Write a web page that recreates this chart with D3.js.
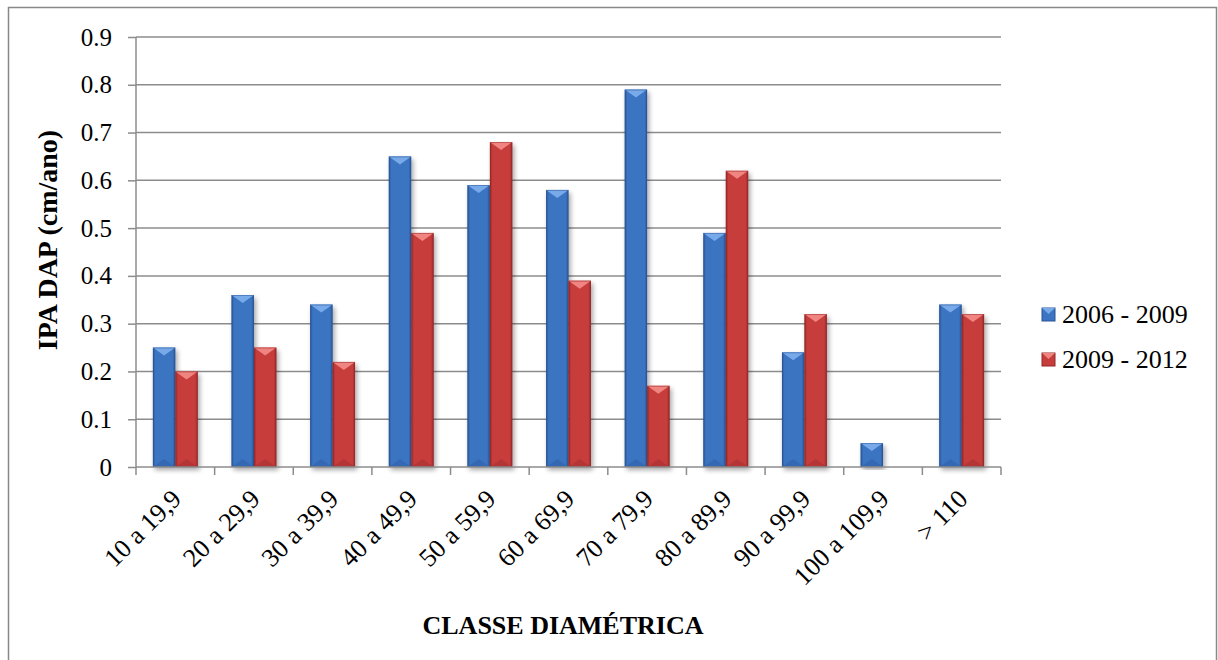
<!DOCTYPE html>
<html>
<head>
<meta charset="utf-8">
<script src="https://cdn.jsdelivr.net/npm/d3@7"></script>
<style>
body { margin: 0; background: #fff; }
svg text { font-family: "Liberation Serif", "Times New Roman", serif; fill: #000; }
</style>
</head>
<body>
<script>
var categories = ["10 a 19,9", "20 a 29,9", "30 a 39,9", "40 a 49,9", "50 a 59,9", "60 a 69,9",
                  "70 a 79,9", "80 a 89,9", "90 a 99,9", "100 a 109,9", "> 110"];
var seriesNames = ["2006 - 2009", "2009 - 2012"];
var serie2006 = [0.25, 0.36, 0.34, 0.65, 0.59, 0.58, 0.79, 0.49, 0.24, 0.05, 0.34];
var serie2009 = [0.20, 0.25, 0.22, 0.49, 0.68, 0.39, 0.17, 0.62, 0.32, null, 0.32];
var yTicks = [0, 0.1, 0.2, 0.3, 0.4, 0.5, 0.6, 0.7, 0.8, 0.9];

var W = 1218, H = 660;
var plot = {left: 136, right: 1001, top: 37, bottom: 467};
var serif = "Liberation Serif, Times New Roman, serif";

var svg = d3.select("body").append("svg").attr("width", W).attr("height", H);

// colours: base, light, dark for each series
var cols = [
  {base: "#3b74c2", light: "#78aaea", dark: "#2a5494"},
  {base: "#c63d3b", light: "#f08480", dark: "#93282a"}
];

var defs = svg.append("defs");
cols.forEach(function(c, i){
  var g = defs.append("linearGradient").attr("id", "body" + i).attr("x1", 0).attr("x2", 1).attr("y1", 0).attr("y2", 0);
  g.append("stop").attr("offset", "0%").attr("stop-color", c.dark);
  g.append("stop").attr("offset", "12%").attr("stop-color", c.base);
  g.append("stop").attr("offset", "88%").attr("stop-color", c.base);
  g.append("stop").attr("offset", "100%").attr("stop-color", c.dark);
});
var flt = defs.append("filter").attr("id", "shadow").attr("x", "-20%").attr("y", "-5%").attr("width", "150%").attr("height", "115%");
flt.append("feGaussianBlur").attr("in", "SourceAlpha").attr("stdDeviation", 2.5);
flt.append("feOffset").attr("dx", 2).attr("dy", 3).attr("result", "ob");
flt.append("feComponentTransfer").append("feFuncA").attr("type", "linear").attr("slope", 0.35);
var fm = flt.append("feMerge");
fm.append("feMergeNode");
fm.append("feMergeNode").attr("in", "SourceGraphic");

// outer frame
svg.append("rect").attr("x", 8.5).attr("y", 7.5).attr("width", 1208).attr("height", 680)
  .attr("fill", "none").attr("stroke", "#888").attr("stroke-width", 1.5);

var x = d3.scaleBand().domain(categories).range([plot.left, plot.right]);
var y = d3.scaleLinear().domain([0, 0.9]).range([plot.bottom, plot.top]);

// grid
svg.append("g").selectAll("line").data(yTicks.slice(1)).join("line")
  .attr("x1", plot.left).attr("x2", plot.right)
  .attr("y1", function(d){ return y(d); }).attr("y2", function(d){ return y(d); })
  .attr("stroke", "#8c8c8c").attr("stroke-width", 1.5);

// y axis
var yAxis = svg.append("g").attr("transform", "translate(" + plot.left + ",0)")
  .call(d3.axisLeft(y).tickValues(yTicks).tickSize(8).tickPadding(16).tickFormat(function(d){ return d === 0 ? "0" : d3.format(".1f")(d); }));
yAxis.attr("font-family", serif).attr("font-size", 25);
yAxis.select(".domain").attr("stroke", "#8c8c8c").attr("stroke-width", 1.5).attr("d", "M0," + plot.top + "V" + plot.bottom);
yAxis.selectAll(".tick line").attr("stroke", "#8c8c8c").attr("stroke-width", 1.5);
yAxis.selectAll(".tick text").attr("fill", "#000");

// bars
var data = [];
categories.forEach(function(c, i){
  [serie2006[i], serie2009[i]].forEach(function(v, s){
    if (v != null) data.push({cat: c, s: s, v: v});
  });
});

var bars = svg.append("g").selectAll("g").data(data).join("g")
  .attr("filter", "url(#shadow)");
bars.each(function(d){
  var g = d3.select(this);
  var bw = x.bandwidth() / 3.5;
  var x0 = x(d.cat) + x.bandwidth() * 0.75 / 3.5 + d.s * bw;
  var y0 = y(d.v), h = y(0) - y0;
  var c = cols[d.s];
  var bev = Math.min(8, h / 2);
  g.append("rect").attr("x", x0).attr("y", y0).attr("width", bw).attr("height", h)
    .attr("fill", "url(#body" + d.s + ")");
  // top bevel triangle
  g.append("path")
    .attr("d", "M" + x0 + "," + y0 + "L" + (x0 + bw) + "," + y0 + "L" + (x0 + bw / 2) + "," + (y0 + bev) + "Z")
    .attr("fill", c.light);
  // bottom bevel
  g.append("path")
    .attr("d", "M" + x0 + "," + (y0 + h) + "L" + (x0 + bw) + "," + (y0 + h) + "L" + (x0 + bw / 2) + "," + (y0 + h - bev) + "Z")
    .attr("fill", c.dark).attr("opacity", 0.35);
  g.append("rect").attr("x", x0 + 0.5).attr("y", y0 + 0.5).attr("width", bw - 1).attr("height", h - 1)
    .attr("fill", "none").attr("stroke", c.dark).attr("stroke-width", 0.8).attr("opacity", 0.6);
});

// x axis
var xAxis = svg.append("g").attr("transform", "translate(0," + plot.bottom + ")")
  .call(d3.axisBottom(x).tickSize(0).tickFormat(""));
xAxis.attr("font-family", serif).attr("font-size", 26);
xAxis.select(".domain").attr("stroke", "#8c8c8c").attr("stroke-width", 1.5).attr("d", "M" + plot.left + ",0H" + plot.right);
xAxis.selectAll(".tick").remove();
var bounds = categories.map(function(c){ return x(c); }).concat([plot.right]);
xAxis.selectAll("line.tk").data(bounds).join("line").attr("class", "tk")
  .attr("x1", function(d){ return d; }).attr("x2", function(d){ return d; })
  .attr("y1", 0).attr("y2", 8).attr("stroke", "#8c8c8c").attr("stroke-width", 1.5);
xAxis.selectAll("text.lbl").data(categories).join("text").attr("class", "lbl")
  .attr("transform", function(d){ return "translate(" + (x(d) + x.bandwidth() / 2 + 1) + ",27) rotate(-45)"; })
  .attr("text-anchor", "end").attr("dy", "0.35em")
  .text(function(d){ return d; });

// axis titles
svg.append("text").attr("x", 563).attr("y", 634).attr("text-anchor", "middle")
  .attr("font-family", serif).attr("font-size", 26).attr("font-weight", "bold").text("CLASSE DIAMÉTRICA");
svg.append("text").attr("transform", "translate(57,240) rotate(-90)").attr("text-anchor", "middle")
  .attr("font-family", serif).attr("font-size", 28).attr("font-weight", "bold").text("IPA DAP (cm/ano)");

// legend
var leg = svg.append("g").attr("font-family", serif).attr("font-size", 26)
  .selectAll("g").data(seriesNames).join("g")
  .attr("transform", function(d, i){ return "translate(1042," + (314 + i * 45) + ")"; });
leg.append("rect").attr("x", 0).attr("y", -6).attr("width", 13).attr("height", 13)
  .attr("fill", function(d, i){ return cols[i].base; }).attr("stroke", function(d, i){ return cols[i].dark; });
leg.append("path").attr("d", "M0,-6L13,-6L6.5,0Z").attr("fill", function(d, i){ return cols[i].light; });
leg.append("text").attr("x", 20).attr("y", 0).attr("dy", "0.35em")
  .text(function(d){ return d; });
</script>
</body>
</html>
